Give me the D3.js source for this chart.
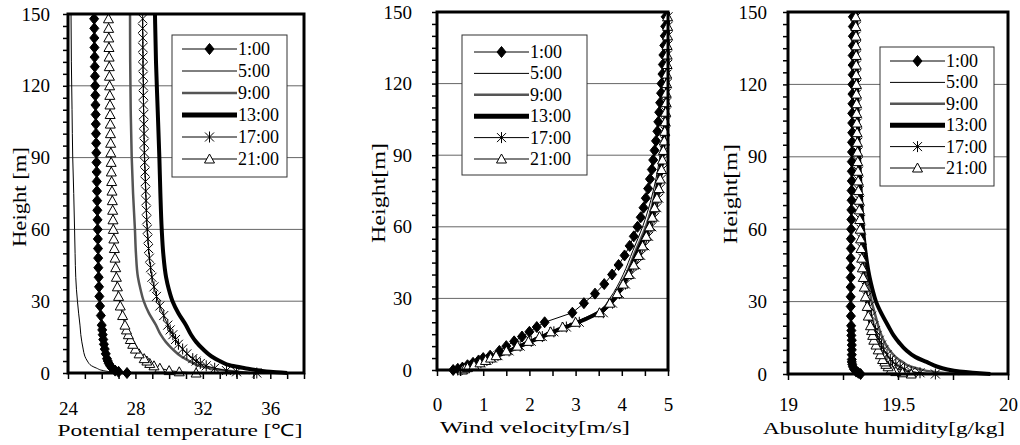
<!DOCTYPE html>
<html>
<head>
<meta charset="utf-8">
<script src="https://cdn.jsdelivr.net/npm/d3@7"></script>
<style>
  body { margin: 0; background: #fff; }
  svg text { font-family: "Liberation Serif", "Times New Roman", serif !important; fill: #000; }
</style>
</head>
<body>
<script>
// heights of the model levels (m)
const zMarked = [0, 0.5, 1, 2, 3, 4, 5, 6, 8, 10, 12, 14, 16, 18, 20,
  24, 28, 32, 36, 40, 44, 48, 52, 56, 60,
  64, 68, 72, 76, 80, 84, 88, 92, 96, 100,
  104, 108, 112, 116, 120, 124, 128, 132, 136, 140, 144, 148];
const zLine = [0, 0.5, 1, 2, 3, 5, 7, 10, 13, 16, 20, 25, 30, 35, 40, 50, 60, 75, 90, 110, 130, 150];

const hours = ["1:00", "5:00", "9:00", "13:00", "17:00", "21:00"];

// potential temperature [C]
const theta01 = [27.5, 27.0, 26.8, 26.62, 26.5, 26.42, 26.36, 26.31, 26.24, 26.18, 26.13, 26.09, 26.06, 26.03, 26.0,
  25.95, 25.9, 25.86, 25.84, 25.82, 25.8, 25.79, 25.78, 25.77, 25.76,
  25.75, 25.74, 25.73, 25.72, 25.71, 25.7, 25.69, 25.68, 25.67, 25.66,
  25.65, 25.64, 25.63, 25.62, 25.61, 25.6, 25.59, 25.58, 25.57, 25.56, 25.56, 25.55];
const theta05 = [28.5, 26.6, 26.1, 25.7, 25.4, 25.15, 25.0, 24.9, 24.82, 24.76, 24.71, 24.63, 24.56, 24.5, 24.46, 24.42, 24.39, 24.34, 24.28, 24.24, 24.2, 24.18];
const theta09 = [34.8, 34.0, 33.4, 32.4, 31.8, 31.2, 30.7, 30.2, 29.8, 29.5, 29.22, 28.8, 28.49, 28.3, 28.15, 28.03, 27.97, 27.86, 27.78, 27.72, 27.69, 27.68];
const theta13 = [37.0, 36.0, 35.4, 34.5, 33.7, 33.0, 32.5, 32.0, 31.6, 31.3, 31.0, 30.55, 30.2, 29.98, 29.82, 29.65, 29.56, 29.48, 29.42, 29.32, 29.22, 29.16];
const theta17 = [35.2, 34.0, 33.4, 32.7, 32.2, 31.85, 31.6, 31.4, 31.05, 30.8, 30.55, 30.38, 30.22, 30.06, 29.92,
  29.68, 29.45, 29.25, 29.1, 28.98, 28.9, 28.83, 28.78, 28.74, 28.7,
  28.67, 28.65, 28.63, 28.61, 28.59, 28.57, 28.55, 28.53, 28.52, 28.51,
  28.5, 28.49, 28.48, 28.47, 28.47, 28.46, 28.45, 28.45, 28.44, 28.44, 28.43, 28.43];
const theta21 = [31.6, 30.6, 30.0, 29.45, 29.1, 28.85, 28.68, 28.52, 28.22, 28.0, 27.84, 27.7, 27.58, 27.47, 27.38,
  27.24, 27.1, 27.0, 26.93, 26.87, 26.83, 26.79, 26.75, 26.72, 26.69,
  26.67, 26.65, 26.63, 26.61, 26.59, 26.57, 26.56, 26.54, 26.53, 26.52,
  26.51, 26.5, 26.49, 26.48, 26.47, 26.46, 26.45, 26.44, 26.43, 26.42, 26.41, 26.4];

// wind velocity [m/s]
const wind01 = [0.35, 0.45, 0.55, 0.66, 0.78, 0.9, 1.0, 1.15, 1.35, 1.5, 1.67, 1.84, 2.0, 2.16, 2.33,
  2.93, 3.18, 3.42, 3.62, 3.79, 3.93, 4.06, 4.17, 4.26, 4.34,
  4.41, 4.47, 4.52, 4.57, 4.61, 4.65, 4.68, 4.71, 4.74, 4.77,
  4.79, 4.81, 4.83, 4.85, 4.86, 4.88, 4.89, 4.9, 4.92, 4.93, 4.94, 4.95];
const wind05 = [0.48, 0.55, 0.62, 0.76, 0.9, 1.14, 1.38, 1.74, 2.1, 2.46, 2.98, 3.52, 3.74, 3.9, 4.03, 4.24, 4.45, 4.68, 4.83, 4.93, 4.97, 4.99];
const wind09 = [0.5, 0.57, 0.64, 0.78, 0.93, 1.17, 1.41, 1.78, 2.14, 2.5, 3.04, 3.56, 3.8, 3.95, 4.09, 4.3, 4.52, 4.73, 4.86, 4.95, 4.98, 5.0];
const wind13 = [0.52, 0.6, 0.67, 0.82, 0.97, 1.2, 1.44, 1.8, 2.16, 2.52, 3.06, 3.58, 3.84, 4.0, 4.13, 4.35, 4.57, 4.76, 4.88, 4.96, 4.99, 5.0];
const wind17 = [0.45, 0.55, 0.63, 0.8, 0.95, 1.08, 1.2, 1.32, 1.56, 1.8, 2.04, 2.28, 2.53, 2.8, 3.08,
  3.6, 3.8, 3.95, 4.08, 4.2, 4.31, 4.41, 4.5, 4.58, 4.65,
  4.71, 4.76, 4.8, 4.83, 4.86, 4.88, 4.9, 4.92, 4.93, 4.94,
  4.95, 4.96, 4.97, 4.97, 4.98, 4.98, 4.99, 4.99, 4.99, 5.0, 5.0, 5.0];
const wind21 = [0.55, 0.6, 0.66, 0.8, 0.93, 1.05, 1.16, 1.28, 1.5, 1.74, 1.98, 2.22, 2.46, 2.72, 3.0,
  3.52, 3.74, 3.9, 4.03, 4.15, 4.26, 4.36, 4.45, 4.53, 4.6,
  4.66, 4.71, 4.76, 4.8, 4.83, 4.86, 4.88, 4.9, 4.92, 4.93,
  4.94, 4.95, 4.96, 4.96, 4.97, 4.97, 4.98, 4.98, 4.98, 4.99, 4.99, 4.99];

// absolute humidity [g/kg]
const hum01 = [19.33, 19.32, 19.31, 19.3, 19.295, 19.292, 19.29, 19.29, 19.29, 19.29, 19.29, 19.29, 19.288, 19.288, 19.287,
  19.286, 19.285, 19.285, 19.285, 19.285, 19.285, 19.285, 19.286, 19.286, 19.287,
  19.288, 19.288, 19.289, 19.289, 19.29, 19.29, 19.29, 19.291, 19.291, 19.292,
  19.292, 19.292, 19.293, 19.293, 19.293, 19.294, 19.294, 19.294, 19.295, 19.295, 19.295, 19.295];
const hum05 = [19.7, 19.6, 19.55, 19.5, 19.47, 19.44, 19.42, 19.4, 19.39, 19.38, 19.37, 19.36, 19.355, 19.35, 19.345, 19.34, 19.333, 19.325, 19.32, 19.315, 19.31, 19.31];
const hum09 = [19.78, 19.7, 19.65, 19.6, 19.56, 19.52, 19.49, 19.46, 19.44, 19.425, 19.41, 19.395, 19.38, 19.37, 19.36, 19.347, 19.337, 19.327, 19.32, 19.315, 19.31, 19.31];
const hum13 = [19.92, 19.84, 19.78, 19.72, 19.68, 19.63, 19.58, 19.535, 19.505, 19.48, 19.455, 19.425, 19.4, 19.384, 19.371, 19.353, 19.341, 19.331, 19.323, 19.316, 19.312, 19.31];
const hum17 = [19.67, 19.6, 19.56, 19.53, 19.51, 19.49, 19.475, 19.465, 19.45, 19.435, 19.425, 19.415, 19.405, 19.398, 19.39,
  19.38, 19.37, 19.36, 19.355, 19.35, 19.345, 19.34, 19.337, 19.334, 19.332,
  19.33, 19.328, 19.326, 19.324, 19.322, 19.32, 19.319, 19.318, 19.317, 19.316,
  19.315, 19.314, 19.313, 19.312, 19.312, 19.311, 19.311, 19.31, 19.31, 19.31, 19.31, 19.31];
const hum21 = [19.56, 19.52, 19.49, 19.47, 19.455, 19.445, 19.44, 19.43, 19.42, 19.41, 19.4, 19.39, 19.385, 19.38, 19.375,
  19.365, 19.36, 19.352, 19.347, 19.342, 19.338, 19.335, 19.332, 19.33, 19.328,
  19.326, 19.324, 19.322, 19.32, 19.319, 19.318, 19.317, 19.316, 19.315, 19.314,
  19.313, 19.312, 19.312, 19.311, 19.311, 19.31, 19.31, 19.31, 19.309, 19.309, 19.308, 19.308];

const yMajor = [0, 30, 60, 90, 120, 150];
const tempTicks = [24, 28, 32, 36];
const windTicks = [0, 1, 2, 3, 4, 5];
const humTicks = [19, 19.5, 20];

const FONT = "Liberation Serif";

// line / marker look of each hour
const styles = [
  { stroke: "#000", width: 1, marker: "diamond" },
  { stroke: "#000", width: 1, marker: null },
  { stroke: "#555", width: 2.5, marker: null },
  { stroke: "#000", width: 4, marker: null },
  { stroke: "#000", width: 1, marker: "star" },
  { stroke: "#000", width: 1, marker: "triangle" }
];
const markerPath = {
  diamond: "M0,-5.5L4.5,0L0,5.5L-4.5,0Z",
  star: "M-4.5,-4.5L4.5,4.5M-4.5,4.5L4.5,-4.5M0,-5.5L0,5.5",
  triangle: "M0,-5L5,4L-5,4Z"
};

const panels = [
  { left: 68, right: 304, top: 14, bottom: 373, xDomain: [24, 38], xTicks: tempTicks, minorStep: 1,
    series: [theta01, theta05, theta09, theta13, theta17, theta21],
    yPad: 13, xPad: 23, xTitle: "Potential temperature [℃]", xTitleX: 180, xTitleY: 436, xTitleLen: 245,
    yTitle: "Height [m]", yTitleX: 26, yTitleY: 197,
    legend: { x: 172, y: 35, w: 115, h: 142, first: 49, step: 22, l0: 182, l1: 237 } },
  { left: 437, right: 668, top: 12, bottom: 370, xDomain: [0, 5], xTicks: windTicks, minorStep: 0.5,
    series: [wind01, wind05, wind09, wind13, wind17, wind21],
    yPad: 20, xPad: 22, xTitle: "Wind velocity[m/s]", xTitleX: 535, xTitleY: 433, xTitleLen: 190,
    yTitle: "Height[m]", yTitleX: 385, yTitleY: 193,
    legend: { x: 462, y: 35, w: 125, h: 140, first: 52, step: 21.4, l0: 474, l1: 529 } },
  { left: 788, right: 1008, top: 12, bottom: 374, xDomain: [19, 20], xTicks: humTicks, minorStep: 0.25,
    series: [hum01, hum05, hum09, hum13, hum17, hum21],
    yPad: 16, xPad: 18, xTitle: "Abusolute humidity[g/kg]", xTitleX: 884, xTitleY: 434, xTitleLen: 242,
    yTitle: "Height[m]", yTitleX: 737, yTitleY: 194,
    legend: { x: 880, y: 47, w: 114, h: 139, first: 61, step: 21.4, l0: 890, l1: 945 } }
];

const svg = d3.select("body").append("svg")
  .attr("width", 1020)
  .attr("height", 445)
  .attr("font-family", FONT);

function addMarker(g, kind, cx, cy) {
  g.append("path")
    .attr("transform", "translate(" + cx + "," + cy + ")")
    .attr("d", markerPath[kind])
    .attr("fill", kind == "diamond" ? "#000" : (kind == "triangle" ? "#fff" : "none"))
    .attr("stroke", "#000")
    .attr("stroke-width", 1);
}

panels.forEach(function (p) {
  const x = d3.scaleLinear().domain(p.xDomain).range([p.left, p.right]);
  const y = d3.scaleLinear().domain([0, 150]).range([p.bottom, p.top]);
  const g = svg.append("g");

  // horizontal grid
  g.selectAll(".grid")
    .data([30, 60, 90, 120])
    .join("line")
    .attr("x1", p.left).attr("x2", p.right)
    .attr("y1", d => y(d)).attr("y2", d => y(d))
    .attr("stroke", "#666").attr("stroke-width", 1);

  // curves
  p.series.forEach(function (vals, i) {
    const st = styles[i];
    const zs = st.marker ? zMarked : zLine;
    const pts = vals.map((v, k) => [x(v), y(zs[k])]);
    g.append("path")
      .attr("d", d3.line().curve(st.marker ? d3.curveLinear : d3.curveMonotoneY)(pts))
      .attr("fill", "none")
      .attr("stroke", st.stroke)
      .attr("stroke-width", st.width)
      .attr("stroke-linejoin", "round");
    if (st.marker) {
      const mg = g.append("g");
      pts.forEach(pt => addMarker(mg, st.marker, pt[0], pt[1]));
    }
  });

  // axes (ticks + labels)
  const minor = d3.range(p.xDomain[0], p.xDomain[1] + 1e-9, p.minorStep);
  const xAxis = g.append("g")
    .attr("transform", "translate(0," + p.bottom + ")")
    .call(d3.axisBottom(x).tickValues(minor).tickSize(6).tickPadding(p.xPad)
      .tickFormat(d => p.xTicks.some(t => Math.abs(t - d) < 1e-9) ? d3.format("")(+d.toFixed(2)) : ""));
  const yAxis = g.append("g")
    .attr("transform", "translate(" + p.left + ",0)")
    .call(d3.axisLeft(y).tickValues(d3.range(0, 151, 5)).tickSize(5).tickPadding(p.yPad)
      .tickFormat(d => yMajor.includes(d) ? d : ""));
  [xAxis, yAxis].forEach(a => {
    a.attr("font-family", FONT);
    a.select(".domain").remove();
    a.selectAll(".tick line").attr("stroke", "#000").attr("stroke-width", 1.5);
    a.selectAll("text").attr("font-size", 19).attr("font-family", FONT).attr("fill", "#000");
  });

  // frame
  g.append("rect")
    .attr("x", p.left).attr("y", p.top)
    .attr("width", p.right - p.left).attr("height", p.bottom - p.top)
    .attr("fill", "none").attr("stroke", "#000").attr("stroke-width", 3);

  // legend
  const L = p.legend;
  const lg = g.append("g");
  lg.append("rect")
    .attr("x", L.x).attr("y", L.y).attr("width", L.w).attr("height", L.h)
    .attr("fill", "#fff").attr("stroke", "#333").attr("stroke-width", 1);
  hours.forEach(function (h, i) {
    const st = styles[i];
    const ly = L.first + i * L.step;
    lg.append("line")
      .attr("x1", L.l0).attr("x2", L.l1).attr("y1", ly).attr("y2", ly)
      .attr("stroke", st.stroke).attr("stroke-width", st.width + (i == 3 ? 1 : 0));
    if (st.marker) addMarker(lg, st.marker, (L.l0 + L.l1) / 2, ly);
    lg.append("text")
      .attr("x", L.l1 + 1).attr("y", ly + 6)
      .attr("font-family", FONT)
      .attr("font-size", 18)
      .text(h);
  });

  // titles
  g.append("text")
    .attr("x", p.xTitleX).attr("y", p.xTitleY)
    .attr("text-anchor", "middle")
    .attr("font-family", FONT)
    .attr("font-size", 17)
    .attr("textLength", p.xTitleLen)
    .attr("lengthAdjust", "spacingAndGlyphs")
    .text(p.xTitle);
  g.append("text")
    .attr("transform", "translate(" + p.yTitleX + "," + p.yTitleY + ") rotate(-90)")
    .attr("text-anchor", "middle")
    .attr("font-family", FONT)
    .attr("font-size", 18)
    .attr("textLength", 100)
    .attr("lengthAdjust", "spacingAndGlyphs")
    .text(p.yTitle);
});
</script>
</body>
</html>
